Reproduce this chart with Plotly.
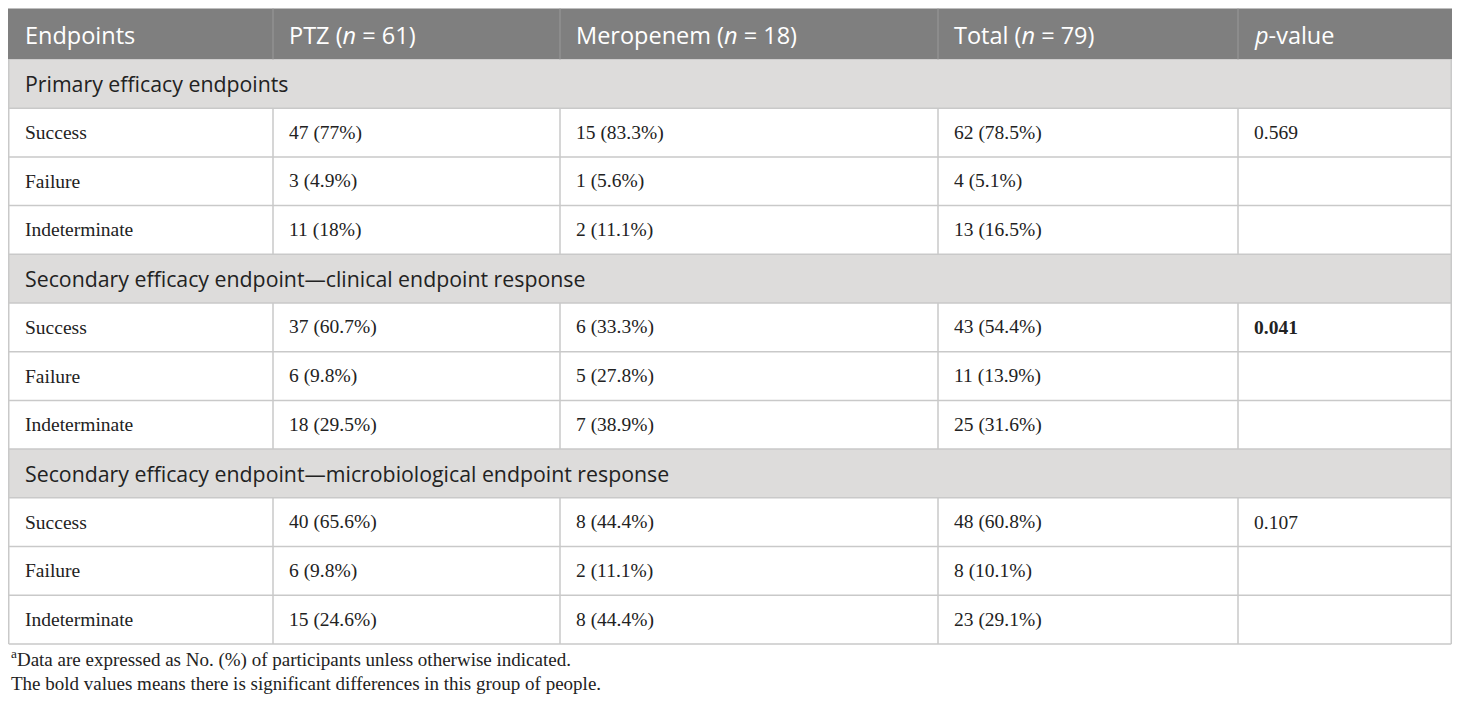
import plotly.graph_objects as go

# table content
headers = ["Endpoints", "PTZ (<i>n</i> = 61)", "Meropenem (<i>n</i> = 18)",
           "Total (<i>n</i> = 79)", "<i>p</i>-value"]
sections = ["Primary efficacy endpoints",
            "Secondary efficacy endpoint\u2014clinical endpoint response",
            "Secondary efficacy endpoint\u2014microbiological endpoint response"]
outcomes = ["Success", "Failure", "Indeterminate"]
ptz = ["47 (77%)", "3 (4.9%)", "11 (18%)",
       "37 (60.7%)", "6 (9.8%)", "18 (29.5%)",
       "40 (65.6%)", "6 (9.8%)", "15 (24.6%)"]
meropenem = ["15 (83.3%)", "1 (5.6%)", "2 (11.1%)",
             "6 (33.3%)", "5 (27.8%)", "7 (38.9%)",
             "8 (44.4%)", "2 (11.1%)", "8 (44.4%)"]
total = ["62 (78.5%)", "4 (5.1%)", "13 (16.5%)",
         "43 (54.4%)", "11 (13.9%)", "25 (31.6%)",
         "48 (60.8%)", "8 (10.1%)", "23 (29.1%)"]
p_values = ["0.569", "0.041", "0.107"]
significant = [False, True, False]
footnotes = ["<sup>a</sup>Data are expressed as No. (%) of participants unless otherwise indicated.",
             "The bold values means there is significant differences in this group of people."]

# layout of the grid (page pixels); the page body keeps an 8px margin
page_margin = 8
view_w, view_h = 1460, 705
x_lo, x_hi = page_margin, view_w - page_margin
col_edges = [x_lo + 0.75, 273, 560, 938, 1238, x_hi - 0.75]
top = 8.5
header_h = 51
row_h = 48.7
pad = 14

HEADER_BG = "#7f7f7f"
SECTION_BG = "#dddcdb"
GRID = "#c9c9c9"
SANS = "Open Sans"
SERIF = "Liberation Serif"

fig = go.Figure()
shapes = []
annotations = []


def add_text(x, y, text, size, family, color="#222222"):
    annotations.append(dict(x=x, y=y, xref="x", yref="y", text=text,
                            showarrow=False, xanchor="left", yanchor="middle",
                            font=dict(size=size, family=family, color=color)))


# header row
y0, y1 = top, top + header_h
shapes.append(dict(type="rect", x0=col_edges[0] - 1, x1=col_edges[-1] + 1, y0=y0, y1=y1,
                   fillcolor=HEADER_BG, line=dict(width=0), layer="below"))
for i, h in enumerate(headers):
    add_text(col_edges[i] + pad, (y0 + y1) / 2 + 1, h, 23.5, SANS, "white")
    if i > 0:
        shapes.append(dict(type="line", x0=col_edges[i], x1=col_edges[i], y0=y0, y1=y1,
                           line=dict(color="#9a9a9a", width=1)))

# body rows
y = y1
for s, section in enumerate(sections):
    shapes.append(dict(type="rect", x0=col_edges[0], x1=col_edges[-1], y0=y, y1=y + row_h,
                       fillcolor=SECTION_BG, line=dict(width=0), layer="below"))
    add_text(col_edges[0] + pad, y + row_h / 2, section, 21.3, SANS)
    y += row_h
    shapes.append(dict(type="line", x0=col_edges[0], x1=col_edges[-1], y0=y, y1=y,
                       line=dict(color=GRID, width=1.5)))
    for k, outcome in enumerate(outcomes):
        idx = s * 3 + k
        cells = [outcome, ptz[idx], meropenem[idx], total[idx]]
        if k == 0:
            pv = p_values[s]
            cells.append("<b>" + pv + "</b>" if significant[s] else pv)
        for c, txt in enumerate(cells):
            add_text(col_edges[c] + pad, y + row_h / 2, txt, 19.5, SERIF)
        for e in col_edges[1:-1]:
            shapes.append(dict(type="line", x0=e, x1=e, y0=y, y1=y + row_h,
                               line=dict(color=GRID, width=1.5)))
        y += row_h
        shapes.append(dict(type="line", x0=col_edges[0], x1=col_edges[-1], y0=y, y1=y,
                           line=dict(color=GRID, width=1.5)))

# outer border of the body
for e in (col_edges[0], col_edges[-1]):
    shapes.append(dict(type="line", x0=e, x1=e, y0=top + header_h, y1=y,
                       line=dict(color=GRID, width=1.5)))

# footnotes
for i, note in enumerate(footnotes):
    add_text(x_lo + 1, y + 15 + i * 25, note, 19, SERIF)

fig.update_layout(
    width=view_w - 2 * page_margin, height=view_h - 2 * page_margin,
    margin=dict(l=0, r=0, t=0, b=0),
    plot_bgcolor="white", paper_bgcolor="white",
    xaxis=dict(range=[x_lo, x_hi], visible=False, fixedrange=True),
    yaxis=dict(range=[view_h - page_margin, page_margin], visible=False, fixedrange=True),
    shapes=shapes, annotations=annotations,
    showlegend=False,
)
fig.write_html("out.html")
